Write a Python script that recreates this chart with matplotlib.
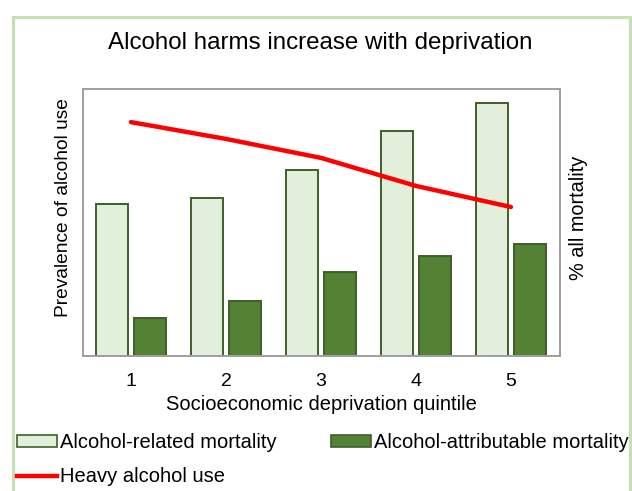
import matplotlib
matplotlib.use("Agg")
import matplotlib.pyplot as plt
from matplotlib.patches import Rectangle, Patch
from matplotlib.lines import Line2D
import numpy as np

plt.rcParams['font.family'] = ['Liberation Sans', 'DejaVu Sans']

quintiles = [1, 2, 3, 4, 5]
related_mortality = [56.9, 59.2, 69.7, 84.3, 94.8]
attributable_mortality = [14.2, 20.6, 31.5, 37.5, 41.9]
heavy_use = [87.6, 81.3, 74.2, 63.7, 55.8]

light_fill = '#e2efda'
dark_fill = '#548235'
bar_edge = '#3f5f2a'
red = '#ff0000'
frame_green = '#c5e0b4'

fig = plt.figure(figsize=(6.32, 4.91), dpi=100)

# light green outer frame
fig.patches.append(Rectangle((13 / 632, -0.05), 617 / 632, 1.05 - 17 / 491,
                             transform=fig.transFigure, fill=False,
                             edgecolor=frame_green, linewidth=2.2))

ax = fig.add_axes([83 / 632, 135 / 491, 477 / 632, 267 / 491])
ax2 = ax.twinx()

x = np.array(quintiles, dtype=float)
w = 0.33
ax2.bar(x - 0.2, related_mortality, width=w, color=light_fill,
        edgecolor=bar_edge, linewidth=1.4)
ax2.bar(x + 0.2, attributable_mortality, width=w, color=dark_fill,
        edgecolor=bar_edge, linewidth=1.4)
ax2.set_ylim(0, 100)

ax.set_zorder(ax2.get_zorder() + 1)
ax.patch.set_visible(False)
ax.plot(x, heavy_use, color=red, linewidth=3.2, solid_capstyle='round')
ax.set_ylim(0, 100)
ax.set_xlim(0.495, 5.516)

for a in (ax, ax2):
    for s in a.spines.values():
        s.set_color('#a0a0a0')
        s.set_linewidth(1.3)
    a.set_yticks([])
ax.set_xticks(quintiles)
ax.set_xticklabels([str(q) for q in quintiles], fontsize=14)
ax.tick_params(axis='x', length=0, pad=12)

ax.set_xlabel('Socioeconomic deprivation quintile', fontsize=14.5)
ax.xaxis.label.set_verticalalignment('center')
ax.xaxis.set_label_coords(0.5, -(405 - 356) / 267)

ax.set_ylabel('Prevalence of alcohol use', fontsize=13.8)
ax.yaxis.label.set_verticalalignment('center')
ax.yaxis.set_label_coords((63 - 83) / 477, (356 - 208) / 267)

ax2.set_ylabel('% all mortality', fontsize=14.3)
ax2.yaxis.label.set_verticalalignment('center')
ax2.yaxis.set_label_coords((578 - 83) / 477, (356 - 217.5) / 267)

fig.text(0.507, 1 - 43 / 491, 'Alcohol harms increase with deprivation',
         ha='center', va='center', fontsize=17.4)

handles = [Patch(facecolor=light_fill, edgecolor=bar_edge, linewidth=1.2),
           Line2D([], [], color=red, linewidth=3.2),
           Patch(facecolor=dark_fill, edgecolor=bar_edge, linewidth=1.2)]
labels = ['Alcohol-related mortality', 'Heavy alcohol use',
          'Alcohol-attributable mortality']
fig.legend(handles, labels, ncol=2, loc='upper left',
           bbox_to_anchor=(16.5 / 632, 1 - 433 / 491), frameon=False,
           fontsize=14.5, handlelength=2.0, handleheight=0.5,
           handletextpad=0.15, columnspacing=2.7, borderpad=0,
           borderaxespad=0, labelspacing=0.75)

fig.savefig('out.png', dpi=100)
